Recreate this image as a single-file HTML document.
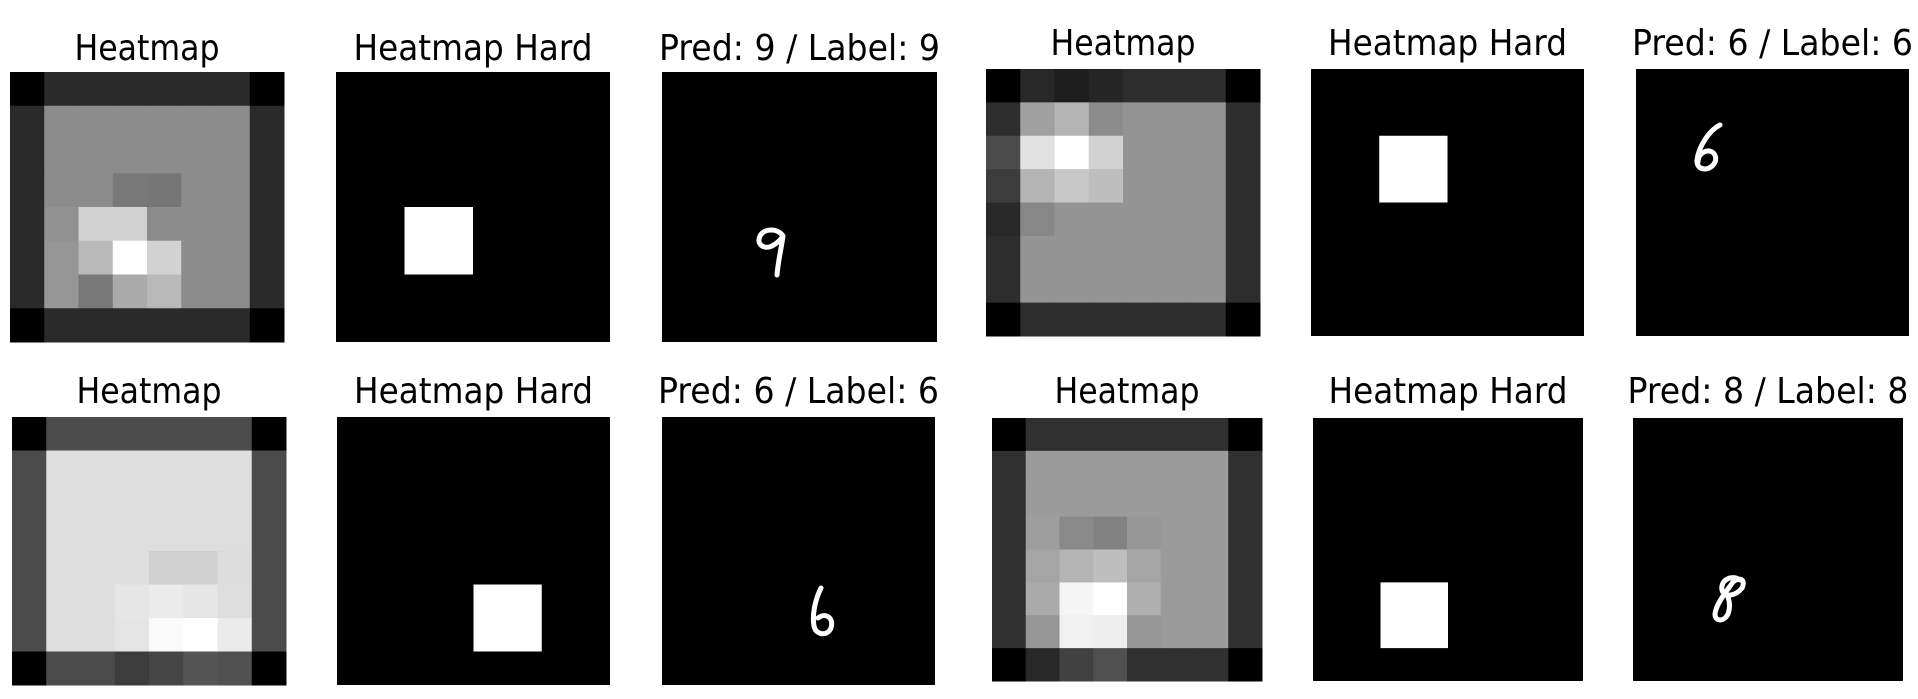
<!DOCTYPE html>
<html><head><meta charset="utf-8"><style>
html,body{margin:0;padding:0;background:#fff;width:1918px;height:699px;overflow:hidden}
svg{display:block}
text{font-family:"DejaVu Sans","Liberation Sans",sans-serif;fill:#000}
</style></head><body>
<svg id="fig" width="1918" height="699" viewBox="0 0 1918 699"></svg>
<script>
// Heatmap grey levels (0-255), 8x8 grids
const heatTL=[[0,42,42,42,42,42,42,0],[42,140,140,140,140,140,140,42],[42,140,140,140,140,140,140,42],[42,140,140,120,118,140,140,42],[42,145,210,210,140,140,140,42],[42,150,185,255,210,140,140,42],[42,150,120,170,185,140,140,42],[0,42,42,42,42,42,42,0]];
const heatTR=[[0,40,30,38,45,45,45,0],[45,160,180,140,148,148,148,45],[75,225,255,210,148,148,148,45],[60,180,200,190,148,148,148,45],[40,135,148,148,148,148,148,45],[45,148,148,148,148,148,148,45],[45,148,148,148,148,148,148,45],[0,45,45,45,45,45,45,0]];
const heatBL=[[0,75,75,75,75,75,75,0],[75,222,222,222,222,222,222,75],[75,222,222,222,222,222,222,75],[75,222,222,222,222,222,222,75],[75,222,222,222,208,208,220,75],[75,222,222,230,235,230,222,75],[75,222,222,228,250,255,235,75],[0,75,75,60,70,85,80,0]];
const heatBR=[[0,48,48,48,48,48,48,0],[48,155,155,155,155,155,155,48],[48,155,155,155,155,155,155,48],[48,158,138,130,150,155,155,48],[48,165,180,190,165,155,155,48],[48,170,245,255,175,155,155,48],[48,150,240,238,150,155,155,48],[0,40,65,80,48,48,48,0]];
// Hard mask positions (col,row) in 8x8 grid, 2x2 block
const hardCols=[2,2,4,2];
const hardRows=[4,2,5,5];
const preds=[9,6,6,8];
const labels=[9,6,6,8];

const NS="http://www.w3.org/2000/svg";
const svg=document.getElementById('fig');
function el(tag,attrs,parent){const e=document.createElementNS(NS,tag);for(const k in attrs)e.setAttribute(k,attrs[k]);(parent||svg).appendChild(e);return e;}

const groups=[
 {heat:heatTL,hx:10,hx2:284,hy:72,hy2:342,p2:336,p2e:610,p3:662,p3e:937,base:60},
 {heat:heatTR,hx:986,hx2:1260,hy:69,hy2:336,p2:1311,p2e:1584,p3:1636,p3e:1909,base:55},
 {heat:heatBL,hx:12,hx2:286,hy:417,hy2:685,p2:337,p2e:610,p3:662,p3e:935,base:403},
 {heat:heatBR,hx:992,hx2:1262,hy:418,hy2:681,p2:1313,p2e:1583,p3:1633,p3e:1903,base:403}
];
const digitPaths=[
 "M783 236 C778 228 764 228 760 236 C756 244 764 250 772 246 C778 243 782 238 783 236 C781 250 778 262 777 275",
 "M1720 125 C1710 130 1699 145 1697 160 C1696 170 1708 172 1714 164 C1719 156 1712 148 1704 152 C1700 154 1698 158 1698 162",
 "M821 588 C815 600 812 615 814 626 C816 636 828 636 831 628 C834 618 826 612 818 618",
 "M1740 580 C1732 574 1720 580 1722 590 C1724 598 1736 596 1742 588 C1746 580 1740 576 1733 582 C1726 592 1716 604 1715 614 C1715 622 1724 622 1728 614 C1731 606 1729 598 1726 593"
];
groups.forEach((g,i)=>{
  const G=el('g',{});
  
  
  const cw=(g.hx2-g.hx)/8, ch=(g.hy2-g.hy)/8;
  const hm=el('g',{},G);
  
  
  g.heat.forEach((row,r)=>row.forEach((v,c)=>{
    const rc=el('rect',{x:g.hx+c*cw,y:g.hy+r*ch,width:cw+0.5,height:ch+0.5,fill:`rgb(${v},${v},${v})`},hm);
    
    
  }));
  const t1=el('text',{x:(g.hx+g.hx2)/2,y:g.base,'font-size':36,'text-anchor':'middle',textLength:145,lengthAdjust:'spacingAndGlyphs'},G);
  t1.textContent='Heatmap';
  
  
  const hh=el('rect',{x:g.p2,y:g.hy,width:g.p2e-g.p2,height:g.hy2-g.hy,fill:'#000'},G);
  
  
  const w2=(g.p2e-g.p2)/8;
  const sq=el('rect',{x:g.p2+hardCols[i]*w2,y:g.hy+hardRows[i]*ch,width:2*w2,height:2*ch,fill:'#fff'},G);
  
  
  const t2=el('text',{x:(g.p2+g.p2e)/2,y:g.base,'font-size':36,'text-anchor':'middle',textLength:239,lengthAdjust:'spacingAndGlyphs'},G);
  t2.textContent='Heatmap Hard';
  
  
  const im=el('rect',{x:g.p3,y:g.hy,width:g.p3e-g.p3,height:g.hy2-g.hy,fill:'#000'},G);
  
  
  const d=el('path',{d:digitPaths[i],fill:'none',stroke:'#fff','stroke-width':5,'stroke-linecap':'round','stroke-linejoin':'round'},G);
  
  
  const t3=el('text',{x:(g.p3+g.p3e)/2,y:g.base,'font-size':36,'text-anchor':'middle',textLength:281,lengthAdjust:'spacingAndGlyphs'},G);
  t3.textContent='Pred: '+preds[i]+' / Label: '+labels[i];
  
  
});
</script>
</body></html>
